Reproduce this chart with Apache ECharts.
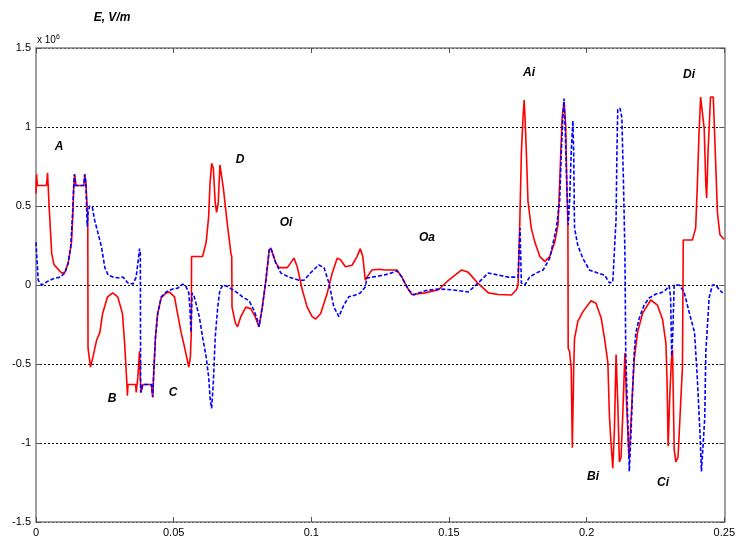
<!DOCTYPE html>
<html>
<head>
<meta charset="utf-8">
<script src="https://cdn.jsdelivr.net/npm/echarts@6/dist/echarts.min.js"></script>
<style>html,body{margin:0;padding:0;background:#fff}#c{width:738px;height:539px}</style>
</head>
<body>
<div id="c"></div>
<script>
// x in the original units, y in units of 10^6 V/m
var redX = [0,0.0002,0.0005,0.0038,0.0042,0.0043,0.0047,0.0057,0.0065,0.0075,0.0093,0.0105,0.0117,0.0129,0.0134,0.0137,0.0141,0.0145,0.0174,0.0177,0.0181,0.0186,0.0188,0.0189,0.0198,0.0207,0.0220,0.0232,0.0242,0.0260,0.0279,0.0297,0.0314,0.0322,0.0330,0.0332,0.0334,0.0362,0.0364,0.0370,0.0376,0.0379,0.0382,0.0388,0.0419,0.0424,0.0427,0.0434,0.0442,0.0455,0.0473,0.0485,0.0503,0.0514,0.0527,0.0539,0.0555,0.0561,0.0564,0.0565,0.0605,0.0618,0.0627,0.0632,0.0638,0.0644,0.0651,0.0656,0.0662,0.0668,0.0674,0.0680,0.0696,0.0708,0.0711,0.0712,0.0724,0.0732,0.0744,0.0762,0.0780,0.0796,0.0810,0.0822,0.0835,0.0847,0.0853,0.0871,0.0883,0.0913,0.0937,0.0949,0.0967,0.0985,0.1003,0.1016,0.1034,0.1058,0.1076,0.1094,0.1106,0.1124,0.1148,0.1166,0.1178,0.1187,0.1196,0.1202,0.1220,0.1245,0.1269,0.1311,0.1329,0.1347,0.1365,0.1414,0.1462,0.1498,0.1546,0.1570,0.1606,0.1643,0.1679,0.1727,0.1745,0.1751,0.1757,0.1763,0.1769,0.1773,0.1777,0.1781,0.1787,0.1799,0.1812,0.1830,0.1848,0.1866,0.1884,0.1896,0.1904,0.1911,0.1918,0.1924,0.1928,0.1932,0.1933,0.1938,0.1944,0.1948,0.1953,0.1956,0.1968,0.1986,0.2016,0.2034,0.2053,0.2065,0.2077,0.2083,0.2089,0.2095,0.2101,0.2107,0.2113,0.2119,0.2125,0.2131,0.2139,0.2145,0.2154,0.2160,0.2167,0.2173,0.2185,0.2203,0.2233,0.2257,0.2276,0.2288,0.2292,0.2296,0.2302,0.2308,0.2312,0.2318,0.2324,0.2332,0.2342,0.2348,0.2351,0.2384,0.2396,0.2402,0.2408,0.2414,0.2420,0.2427,0.2433,0.2436,0.2441,0.2450,0.2460,0.2465,0.2475,0.2484,0.2493,0.2500];
var redY = [0.58,0.70,0.63,0.63,0.71,0.70,0.52,0.20,0.13,0.11,0.076,0.08,0.14,0.27,0.45,0.62,0.70,0.63,0.63,0.70,0.65,0.49,0.45,-0.40,-0.52,-0.455,-0.35,-0.30,-0.18,-0.075,-0.05,-0.075,-0.18,-0.37,-0.62,-0.70,-0.63,-0.63,-0.68,-0.58,-0.42,-0.60,-0.68,-0.63,-0.63,-0.71,-0.58,-0.33,-0.18,-0.08,-0.05,-0.045,-0.075,-0.18,-0.30,-0.39,-0.52,-0.45,-0.30,0.18,0.18,0.27,0.43,0.64,0.77,0.74,0.52,0.46,0.52,0.76,0.77,0.62,0.37,0.20,0.18,-0.14,-0.24,-0.265,-0.20,-0.14,-0.15,-0.20,-0.265,-0.14,0.03,0.22,0.234,0.14,0.11,0.11,0.17,0.115,-0.03,-0.14,-0.20,-0.215,-0.18,-0.05,0.076,0.17,0.16,0.115,0.125,0.18,0.23,0.18,0.03,0.05,0.095,0.10,0.095,0.095,0.05,-0.013,-0.06,-0.05,-0.03,0.03,0.095,0.08,0.01,-0.05,-0.06,-0.063,-0.03,0,0.38,0.84,1.06,1.17,1.03,0.84,0.53,0.36,0.27,0.18,0.15,0.18,0.27,0.38,0.74,1.06,1.16,1.01,0.63,0.38,-0.40,-0.42,-0.53,-1.03,-0.53,-0.34,-0.23,-0.17,-0.10,-0.115,-0.21,-0.34,-0.49,-0.84,-1.01,-1.16,-0.91,-0.44,-0.74,-1.12,-1.09,-0.83,-0.43,-0.75,-1.10,-0.90,-0.66,-0.47,-0.30,-0.18,-0.095,-0.127,-0.22,-0.37,-0.60,-1.02,-0.70,-0.47,-0.41,-1.04,-1.12,-1.09,-0.73,-0.52,0.285,0.285,0.36,0.63,0.95,1.19,1.19,0.99,0.63,0.55,0.84,1.19,1.19,0.95,0.46,0.32,0.30,0.29];

var blueX = [0,0.0008,0.0021,0.0039,0.0063,0.0087,0.0105,0.0117,0.0126,0.0133,0.0139,0.0143,0.0174,0.0177,0.0181,0.0186,0.0189,0.0195,0.0205,0.0213,0.0225,0.0238,0.0250,0.0262,0.0280,0.0304,0.0316,0.0334,0.0352,0.0364,0.0376,0.0379,0.0380,0.0388,0.0419,0.0424,0.0427,0.0434,0.0442,0.0455,0.0473,0.0497,0.0515,0.0533,0.0545,0.0555,0.0559,0.0563,0.0567,0.0575,0.0593,0.0605,0.0618,0.0627,0.0633,0.0638,0.0644,0.0651,0.0660,0.0668,0.0680,0.0696,0.0714,0.0732,0.0750,0.0774,0.0792,0.0804,0.0810,0.0822,0.0835,0.0847,0.0853,0.0871,0.0889,0.0919,0.0955,0.0973,0.0997,0.1027,0.1046,0.1064,0.1082,0.1100,0.1118,0.1136,0.1160,0.1178,0.1196,0.1202,0.1245,0.1281,0.1311,0.1329,0.1353,0.1371,0.1414,0.1462,0.1510,0.1570,0.1606,0.1643,0.1679,0.1715,0.1751,0.1754,0.1758,0.1763,0.1775,0.1793,0.1817,0.1842,0.1866,0.1890,0.1902,0.1908,0.1914,0.1918,0.1922,0.1928,0.1933,0.1938,0.1944,0.1950,0.1953,0.1956,0.1968,0.1986,0.2010,0.2040,0.2065,0.2083,0.2095,0.2107,0.2110,0.2113,0.2121,0.2128,0.2131,0.2134,0.2139,0.2142,0.2149,0.2155,0.2161,0.2167,0.2173,0.2179,0.2191,0.2209,0.2227,0.2252,0.2270,0.2288,0.2300,0.2305,0.2309,0.2313,0.2318,0.2336,0.2354,0.2372,0.2392,0.2402,0.2412,0.2417,0.2424,0.2429,0.2433,0.2439,0.2445,0.2457,0.2469,0.2482,0.2494];
var blueY = [0.27,0.03,0,0.02,0.04,0.05,0.076,0.14,0.24,0.46,0.70,0.63,0.63,0.70,0.65,0.37,0.46,0.50,0.49,0.41,0.33,0.24,0.11,0.063,0.05,0.044,0.05,0.013,0.006,0.05,0.23,0.20,-0.68,-0.63,-0.63,-0.71,-0.58,-0.33,-0.18,-0.075,-0.044,-0.025,-0.02,0.006,-0.01,-0.05,-0.15,-0.30,-0.05,-0.075,-0.20,-0.33,-0.455,-0.58,-0.73,-0.78,-0.62,-0.33,-0.14,-0.03,0,-0.01,-0.03,-0.05,-0.075,-0.10,-0.16,-0.22,-0.265,-0.14,0.03,0.22,0.234,0.14,0.076,0.05,0.03,0.03,0.076,0.127,0.11,0.013,-0.14,-0.20,-0.127,-0.075,-0.063,-0.05,-0.013,0.044,0.057,0.07,0.09,0.05,-0.03,-0.063,-0.036,-0.025,-0.03,-0.044,0.013,0.076,0.063,0.05,0.05,0.20,0.36,0.013,0,0.05,0.076,0.095,0.17,0.36,0.53,0.84,1.08,1.18,0.99,0.63,0.38,0.53,0.84,1.04,0.84,0.36,0.25,0.17,0.095,0.076,0.063,0.013,0.02,0.42,0.84,1.11,1.12,1.06,0.84,0.63,0.21,-0.42,-0.84,-1.18,-0.95,-0.66,-0.42,-0.30,-0.21,-0.127,-0.082,-0.057,-0.05,-0.03,-0.006,-0.08,-0.45,-0.30,0,0,-0.044,-0.17,-0.30,-0.59,-0.95,-1.18,-1.19,-0.84,-0.42,-0.25,-0.08,0,0,-0.03,-0.05];

var xTickLabels = ['0','0.05','0.1','0.15','0.2','0.25'];
var yTickLabels = ['-1.5','-1','-0.5','0','0.5','1','1.5'];
var annotations = [
  {t:'A', x:59, y:147}, {t:'B', x:112, y:399}, {t:'C', x:173, y:393}, {t:'D', x:240, y:160},
  {t:'Oi', x:286, y:223}, {t:'Oa', x:427, y:238}, {t:'Ai', x:529, y:73}, {t:'Bi', x:593, y:477},
  {t:'Ci', x:663, y:483}, {t:'Di', x:689, y:75}
];

function pairs(xs, ys){ var r=[]; for(var i=0;i<xs.length;i++) r.push([xs[i], ys[i]]); return r; }
function xLab(v){ var i=Math.round(v/0.05); return xTickLabels[i]!==undefined?xTickLabels[i]:''; }
function yLab(v){ var i=Math.round((v+1.5)/0.5); return yTickLabels[i]!==undefined?yTickLabels[i]:''; }

var FONT = 'Liberation Sans, Arial, sans-serif';
var axisLineStyle = {color:'#7f7f7f', width:1.5};
var chart = echarts.init(document.getElementById('c'), null, {renderer:'canvas'});
var graphics = annotations.map(function(a){
  return {type:'text', x:a.x, y:a.y, style:{text:a.t, fontFamily:FONT, fontSize:12, fontStyle:'italic', fontWeight:'bold', fill:'#000', textAlign:'center', textVerticalAlign:'middle'}};
});
graphics.push({type:'text', x:112, y:18, style:{text:'E, V/m', fontFamily:FONT, fontSize:12, fontStyle:'italic', fontWeight:'bold', fill:'#000', textAlign:'center', textVerticalAlign:'middle'}});
graphics.push({type:'text', x:37, y:40, style:{rich:{a:{fontSize:10,fontFamily:FONT,fill:'#000'}, s:{fontSize:7,fontFamily:FONT,fill:'#000', verticalAlign:'top', padding:[0,0,6,0]}}, text:'{a|x 10}{s|6}', textVerticalAlign:'middle'}});

chart.setOption({
  animation:false,
  backgroundColor:'#fff',
  grid:{left:36, right:11, top:48, bottom:17, containLabel:false},
  xAxis:[{
    type:'value', min:0, max:0.25, interval:0.05, position:'bottom',
    axisLine:{show:true, lineStyle:axisLineStyle, onZero:false},
    axisTick:{show:true, inside:true, length:5, lineStyle:{color:'#555'}},
    axisLabel:{formatter:xLab, color:'#000', fontFamily:FONT, fontSize:11, margin:5},
    splitLine:{show:false}
  },{
    type:'value', min:0, max:0.25, interval:0.05, position:'top',
    axisLine:{show:true, lineStyle:axisLineStyle, onZero:false},
    axisTick:{show:true, inside:true, length:5, lineStyle:{color:'#555'}},
    axisLabel:{show:false}, splitLine:{show:false}
  }],
  yAxis:[{
    type:'value', min:-1.5, max:1.5, interval:0.5, position:'left',
    axisLine:{show:true, lineStyle:axisLineStyle, onZero:false},
    axisTick:{show:true, inside:true, length:5, lineStyle:{color:'#555'}},
    axisLabel:{formatter:yLab, color:'#000', fontFamily:FONT, fontSize:11, margin:5},
    splitLine:{show:true, lineStyle:{color:'#000', width:1, type:[2,2]}}
  },{
    type:'value', min:-1.5, max:1.5, interval:0.5, position:'right',
    axisLine:{show:true, lineStyle:axisLineStyle, onZero:false},
    axisTick:{show:true, inside:true, length:5, lineStyle:{color:'#555'}},
    axisLabel:{show:false}, splitLine:{show:false}
  }],
  series:[{
    type:'line', name:'red', data:pairs(redX, redY), showSymbol:false, symbol:'none',
    lineStyle:{color:'#ff0000', width:1.6}, z:2
  },{
    type:'line', name:'blue', data:pairs(blueX, blueY), showSymbol:false, symbol:'none',
    lineStyle:{color:'#0000ff', width:1.6, type:[4,2]}, z:3
  }],
  graphic:graphics
});
</script>
</body>
</html>
